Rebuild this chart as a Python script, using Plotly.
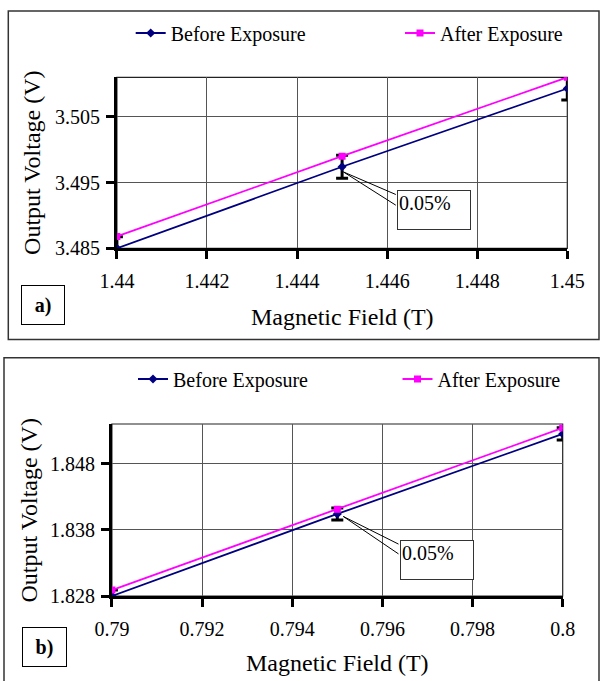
import plotly.graph_objects as go

# ---------------- data ----------------
field_a = [1.44, 1.445, 1.45]
before_a = [3.4850, 3.4974, 3.5093]
after_a = [3.4868, 3.4990, 3.5110]

field_b = [0.79, 0.795, 0.80]
before_b = [1.8280, 1.8404, 1.8525]
after_b = [1.8289, 1.8411, 1.8534]

xticks_a = [1.44, 1.442, 1.444, 1.446, 1.448, 1.45]
xticklabels_a = ["1.44", "1.442", "1.444", "1.446", "1.448", "1.45"]
yticks_a = [3.485, 3.495, 3.505]
yticklabels_a = ["3.485", "3.495", "3.505"]

xticks_b = [0.79, 0.792, 0.794, 0.796, 0.798, 0.80]
xticklabels_b = ["0.79", "0.792", "0.794", "0.796", "0.798", "0.8"]
yticks_b = [1.828, 1.838, 1.848]
yticklabels_b = ["1.828", "1.838", "1.848"]

error_pct = 0.05  # percent
series_names = ["Before Exposure", "After Exposure"]

# ---------------- style ----------------
W, H = 601, 681
FONT = "Liberation Serif, Times New Roman, Tinos, DejaVu Serif, serif"
NAVY = "#000080"
MAGENTA = "#FF00FF"
GRID = "#555555"
BORDER = "#333333"


def px(x):
    return x / W


def py(y):
    return 1 - y / H


fig = go.Figure()

err = dict(type="percent", value=error_pct, color="black", thickness=3, width=6)

# panel a
fig.add_trace(go.Scatter(x=field_a, y=before_a, name=series_names[0], mode="lines+markers",
                         line=dict(color=NAVY, width=1.8),
                         marker=dict(symbol="diamond", size=7, color=NAVY),
                         error_y=err, xaxis="x", yaxis="y", legend="legend"))
fig.add_trace(go.Scatter(x=field_a, y=after_a, name=series_names[1], mode="lines+markers",
                         line=dict(color=MAGENTA, width=1.8),
                         marker=dict(symbol="square", size=7, color=MAGENTA),
                         xaxis="x", yaxis="y", legend="legend2"))
# panel b
fig.add_trace(go.Scatter(x=field_b, y=before_b, name=series_names[0], mode="lines+markers",
                         line=dict(color=NAVY, width=1.8),
                         marker=dict(symbol="diamond", size=7, color=NAVY),
                         error_y=err, xaxis="x2", yaxis="y2", legend="legend3"))
fig.add_trace(go.Scatter(x=field_b, y=after_b, name=series_names[1], mode="lines+markers",
                         line=dict(color=MAGENTA, width=1.8),
                         marker=dict(symbol="square", size=7, color=MAGENTA),
                         xaxis="x2", yaxis="y2", legend="legend4"))

axis_common = dict(showgrid=True, gridcolor=GRID, gridwidth=1, zeroline=False,
                   showline=True, linecolor="black", linewidth=3,
                   ticks="outside", ticklen=8, tickwidth=3, tickcolor="black",
                   tickfont=dict(family=FONT, size=20, color="black"), automargin=False)

fig.update_layout(
    xaxis=dict(axis_common, domain=[px(116.9), px(567.3)], range=[1.44, 1.45],
               tickvals=xticks_a, ticktext=xticklabels_a, anchor="y", ticklabelstandoff=5),
    yaxis=dict(axis_common, domain=[py(248.3), py(77.3)], range=[3.485, 3.511],
               tickvals=yticks_a, ticktext=yticklabels_a, anchor="x", ticklabelstandoff=2),
    xaxis2=dict(axis_common, domain=[px(111.9), px(562.7)], range=[0.79, 0.80],
                tickvals=xticks_b, ticktext=xticklabels_b, anchor="y2", ticklabelstandoff=5),
    yaxis2=dict(axis_common, domain=[py(596), py(424)], range=[1.828, 1.854],
                tickvals=yticks_b, ticktext=yticklabels_b, anchor="x2", ticklabelstandoff=2),
)

leg_common = dict(orientation="h", xanchor="left", yanchor="middle", bgcolor="rgba(0,0,0,0)",
                  font=dict(family=FONT, size=20, color="black"), itemwidth=30)
fig.update_layout(
    showlegend=True,
    legend=dict(leg_common, x=px(130.7), y=py(33)),
    legend2=dict(leg_common, x=px(400), y=py(33)),
    legend3=dict(leg_common, x=px(133), y=py(379)),
    legend4=dict(leg_common, x=px(397.5), y=py(379)),
)

shapes = [
    # outer panel frames
    dict(type="rect", xref="paper", yref="paper", x0=px(8.3), x1=px(599), y0=py(339.5), y1=py(11),
         line=dict(color=BORDER, width=1.5)),
    dict(type="rect", xref="paper", yref="paper", x0=px(4), x1=px(599), y0=py(684), y1=py(357.7),
         line=dict(color=BORDER, width=1.5)),
    # plot area frames
    dict(type="rect", xref="x domain", yref="y domain", x0=0, x1=1, y0=0, y1=1,
         line=dict(color="#222222", width=1.2), layer="below"),
    dict(type="rect", xref="x2 domain", yref="y2 domain", x0=0, x1=1, y0=0, y1=1,
         line=dict(color="#222222", width=1.2), layer="below"),
]

annotations = []
tfont = dict(family=FONT, size=24, color="black")
# axis titles
annotations += [
    dict(text="Magnetic Field (T)", xref="paper", yref="paper", x=px(342), y=py(317),
         xanchor="center", yanchor="middle", showarrow=False, font=tfont),
    dict(text="Output Voltage (V)", xref="paper", yref="paper", x=px(32.6), y=py(163.3),
         xanchor="center", yanchor="middle", showarrow=False, font=tfont, textangle=-90),
    dict(text="Magnetic Field (T)", xref="paper", yref="paper", x=px(337.3), y=py(663.3),
         xanchor="center", yanchor="middle", showarrow=False, font=tfont),
    dict(text="Output Voltage (V)", xref="paper", yref="paper", x=px(28.7), y=py(510.8),
         xanchor="center", yanchor="middle", showarrow=False, font=tfont, textangle=-90),
]
# panel labels
lfont = dict(family=FONT, size=20, color="black")
annotations += [
    dict(text="<b>a)</b>", xref="paper", yref="paper", x=px(43.4), y=py(304.6),
         xanchor="center", yanchor="middle", showarrow=False, font=lfont,
         width=42, height=38, borderpad=0, bordercolor="black", borderwidth=1),
    dict(text="<b>b)</b>", xref="paper", yref="paper", x=px(44.7), y=py(646.6),
         xanchor="center", yanchor="middle", showarrow=False, font=lfont,
         width=43, height=38, borderpad=0, bordercolor="black", borderwidth=1),
]
# callouts (two leader lines + text box)
callouts = [
    ("x", "y", (1.44503, 3.49661), [(1.446226, 3.49308), (1.446226, 3.49141)], (1.446226, 3.49379)),
    ("x2", "y2", (0.795133, 1.84002), [(0.796391, 1.83573), (0.796391, 1.83421)], (0.796391, 1.83648)),
]
for xr, yr, tip, tails, box in callouts:
    for tx, ty in tails:
        annotations.append(dict(text="", xref=xr, yref=yr, x=tip[0], y=tip[1],
                                axref=xr, ayref=yr, ax=tx, ay=ty, showarrow=True,
                                arrowhead=0, arrowwidth=1, arrowcolor="black"))
    annotations.append(dict(text="0.05%", xref=xr, yref=yr, x=box[0], y=box[1],
                            xanchor="left", yanchor="top", showarrow=False,
                            width=70, height=36, align="left", valign="top",
                            borderpad=1, borderwidth=1, bordercolor=BORDER, bgcolor="white",
                            font=dict(family=FONT, size=20, color="black")))

fig.update_layout(
    width=W, height=H, margin=dict(l=0, r=0, t=0, b=0, autoexpand=False),
    paper_bgcolor="white", plot_bgcolor="white",
    shapes=shapes, annotations=annotations,
    font=dict(family=FONT, size=20, color="black"),
)

fig.write_html("out.html", config={"displayModeBar": False},
               post_script="document.body.style.margin='0';document.body.style.overflow='hidden';")
